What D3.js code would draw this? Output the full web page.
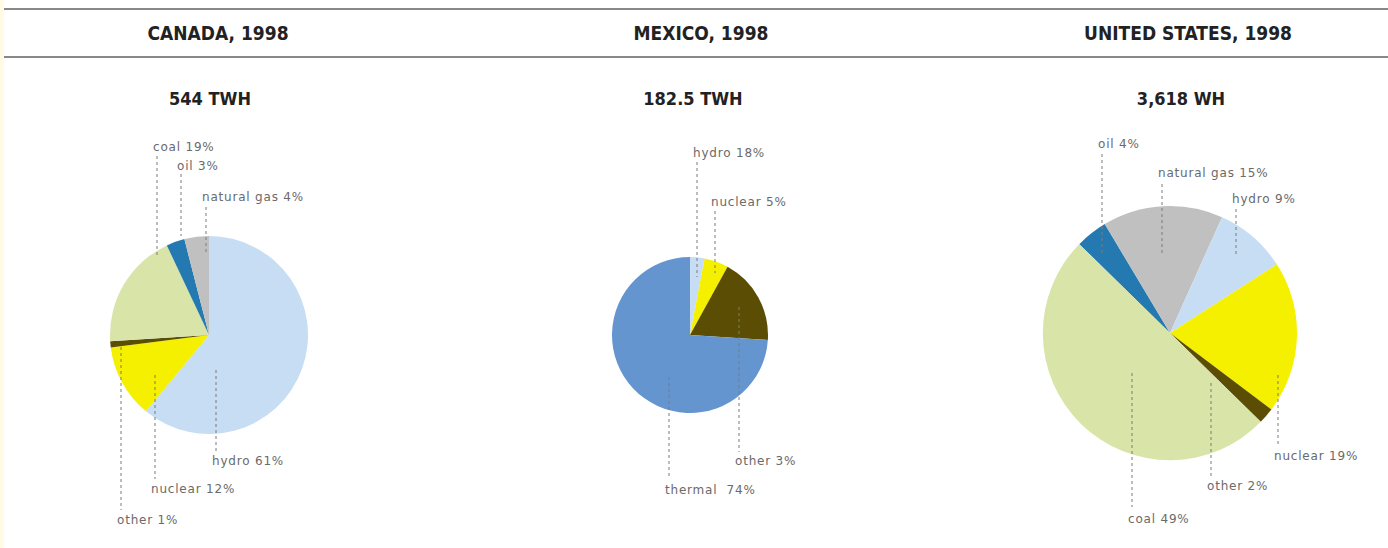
<!DOCTYPE html>
<html>
<head>
<meta charset="utf-8">
<script src="https://cdn.jsdelivr.net/npm/d3@7"></script>
<style>
  body { margin: 0; background: #fff; }
  .head { font-family: "Liberation Sans Narrow", "DejaVu Sans Condensed", sans-serif; font-weight: bold; fill: #222; }
  .lbl { font-family: "DejaVu Sans", sans-serif; font-size: 12px; letter-spacing: 0.8px; fill: #6a6a6a; }
</style>
</head>
<body>
<div class="canvas"></div>
<script>
const dims = {width: 1388, height: 548};

// data
const titles = ['CANADA, 1998', 'MEXICO, 1998', 'UNITED STATES, 1998'];
const totals = ['544 TWH', '182.5 TWH', '3,618 WH'];

const canadaSources = ['hydro', 'nuclear', 'other', 'coal', 'oil', 'natural gas'];
const canadaValues = [61, 12, 1, 19, 3, 4];
const canadaLabels = ['hydro 61%', 'nuclear 12%', 'other 1%', 'coal 19%', 'oil 3%', 'natural gas 4%'];

// slice sizes as drawn in the picture (labels printed differ for hydro / other)
const mexicoSources = ['hydro', 'nuclear', 'other', 'thermal'];
const mexicoValues = [3, 5, 18, 74];
const mexicoLabels = ['hydro 18%', 'nuclear 5%', 'other 3%', 'thermal  74%'];

const usSources = ['oil', 'natural gas', 'hydro', 'nuclear', 'other', 'coal'];
const usValues = [4, 15, 9, 19, 2, 49];
const usLabels = ['oil 4%', 'natural gas 15%', 'hydro 9%', 'nuclear 19%', 'other 2%', 'coal 49%'];

const color = d3.scaleOrdinal()
  .domain(['hydro', 'nuclear', 'other', 'coal', 'oil', 'natural gas', 'thermal'])
  .range(['#c6ddf3', '#f4f000', '#5b4e04', '#d9e4a8', '#2479b0', '#c0c0c0', '#6495ce']);

// layout: pie centre, radius, leader lines (x offset from centre, text baseline, line ends)
const charts = [
  {sources: canadaSources, values: canadaValues, labels: canadaLabels,
   cx: 209, cy: 335, r: 99, start: 0, titleX: 218, totalX: 210,
   leaders: [
     {dx: 7, ty: 465, y0: 370, y1: 452},
     {dx: -54, ty: 493, y0: 375, y1: 479},
     {dx: -88, ty: 524, y0: 347, y1: 510},
     {dx: -52, ty: 151, y0: 156, y1: 255},
     {dx: -28, ty: 170, y0: 174, y1: 236},
     {dx: -3, ty: 201, y0: 207, y1: 252}
   ]},
  {sources: mexicoSources, values: mexicoValues, labels: mexicoLabels,
   cx: 690, cy: 335, r: 78, start: 0, titleX: 701, totalX: 693,
   leaders: [
     {dx: 7, ty: 157, y0: 162, y1: 277},
     {dx: 25, ty: 206, y0: 211, y1: 273},
     {dx: 49, ty: 465, y0: 307, y1: 452},
     {dx: -21, ty: 494, y0: 377, y1: 478}
   ]},
  {sources: usSources, values: usValues, labels: usLabels,
   cx: 1170, cy: 333, r: 127, start: -45.6, titleX: 1188, totalX: 1181,
   leaders: [
     {dx: -68, ty: 148, y0: 154, y1: 255},
     {dx: -8, ty: 177, y0: 184, y1: 255},
     {dx: 66, ty: 203, y0: 209, y1: 257},
     {dx: 108, ty: 460, y0: 375, y1: 447},
     {dx: 41, ty: 490, y0: 383, y1: 477},
     {dx: -38, ty: 523, y0: 373, y1: 507}
   ]}
];

const svg = d3.select('.canvas')
  .append('svg')
  .attr('width', dims.width)
  .attr('height', dims.height);

// pale strip on the left edge
svg.append('rect')
  .attr('x', 0).attr('y', 0)
  .attr('width', 4).attr('height', dims.height)
  .attr('fill', '#fffbe4');

// header rules
[9, 57].forEach(y => {
  svg.append('line')
    .attr('x1', 4).attr('x2', dims.width)
    .attr('y1', y).attr('y2', y)
    .attr('stroke', '#888')
    .attr('stroke-width', 2);
});

const arc = d3.arc().innerRadius(0);

charts.forEach((c, i) => {
  svg.append('text')
    .classed('head', true)
    .attr('x', c.titleX).attr('y', 40)
    .attr('text-anchor', 'middle')
    .attr('font-size', 19)
    .text(titles[i]);

  svg.append('text')
    .classed('head', true)
    .attr('x', c.totalX).attr('y', 105)
    .attr('text-anchor', 'middle')
    .attr('font-size', 18)
    .text(totals[i]);

  const start = c.start * Math.PI / 180;
  const pie = d3.pie()
    .sort(null)
    .startAngle(start)
    .endAngle(start + 2 * Math.PI);

  const slices = pie(c.values);
  const g = svg.append('g')
    .attr('transform', `translate(${c.cx}, ${c.cy})`);

  g.selectAll('path')
    .data(slices)
    .enter()
    .append('path')
    .attr('d', d => arc.outerRadius(c.r)(d))
    .attr('fill', (d, j) => color(c.sources[j]));

  // leader lines + labels
  c.leaders.forEach((l, j) => {
    const x = c.cx + l.dx;
    svg.append('line')
      .attr('x1', x).attr('x2', x)
      .attr('y1', l.y0).attr('y2', l.y1)
      .attr('stroke', '#7a7a7a')
      .attr('stroke-width', 1)
      .attr('stroke-dasharray', '3,3');

    svg.append('text')
      .classed('lbl', true)
      .attr('x', x - 4)
      .attr('y', l.ty)
      .attr('xml:space', 'preserve')
      .text(c.labels[j]);
  });
});
</script>
</body>
</html>
